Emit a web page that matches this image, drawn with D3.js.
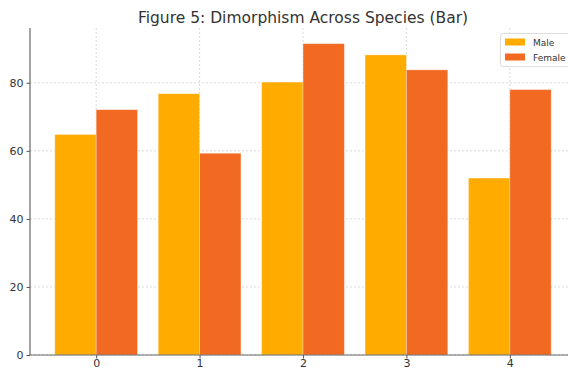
<!DOCTYPE html>
<html><head><meta charset="utf-8">
<script src="https://cdn.jsdelivr.net/npm/d3@7"></script>
<style>body{margin:0;background:#fff}svg{display:block;font-family:"DejaVu Sans",sans-serif}</style>
</head><body><svg id="c" width="568" height="369"></svg>
<script>
const categories = [0, 1, 2, 3, 4];
const maleValues = [64.8, 76.8, 80.2, 88.2, 52.0];
const femaleValues = [72.1, 59.3, 91.5, 83.8, 78.0];
const yTicks = [0, 20, 40, 60, 80];
const seriesNames = ["Male", "Female"];
const colors = ["#ffab00", "#f26a22"];
const title = "Figure 5: Dimorphism Across Species (Bar)";

const svg = d3.select("#c");
const L = 30, R = 576, T = 28, B = 355;
const barW = 0.4;
const x = d3.scaleLinear().domain([-0.64, 4.64]).range([L, R]);
const y = d3.scaleLinear().domain([0, 96.1]).range([B, T]);

// grid
const g = svg.append("g");
g.selectAll(".gy").data(yTicks).join("line")
  .attr("x1", L).attr("x2", R).attr("y1", d => y(d)).attr("y2", d => y(d))
  .attr("stroke", "#d0d0d0").attr("stroke-width", 0.8).attr("stroke-dasharray", "2,2");
g.selectAll(".gx").data(categories).join("line")
  .attr("y1", T).attr("y2", B).attr("x1", d => x(d)).attr("x2", d => x(d))
  .attr("stroke", "#d0d0d0").attr("stroke-width", 0.8).attr("stroke-dasharray", "2,2");

// bars
const series = [maleValues, femaleValues];
series.forEach((vals, si) => {
  svg.append("g").selectAll("rect").data(vals).join("rect")
    .attr("x", (d, i) => x(categories[i] + (si === 0 ? -barW : 0)))
    .attr("width", x(barW) - x(0))
    .attr("y", d => y(d))
    .attr("height", d => y(0) - y(d))
    .attr("fill", colors[si])
    .attr("stroke", "rgba(255,255,255,0.4)").attr("stroke-width", 0.8);
});

// axes
const xAxis = d3.axisBottom(x).tickValues(categories).tickFormat(d3.format("d")).tickSize(3.5).tickPadding(1);
const yAxis = d3.axisLeft(y).tickValues(yTicks).tickSize(3.5).tickPadding(3);
const ax = svg.append("g").attr("transform", `translate(0,${B})`).call(xAxis);
const ay = svg.append("g").attr("transform", `translate(${L},0)`).call(yAxis);
[ax, ay].forEach(a => {
  a.select(".domain").remove();
  a.selectAll("line").attr("stroke", "#555");
  a.selectAll("text").attr("fill", "#333").style("font-size", "11px").style("font-family", "DejaVu Sans");
});
svg.append("line").attr("x1", L).attr("x2", L).attr("y1", T).attr("y2", B).attr("stroke", "#666").attr("stroke-width", 1.2);
svg.append("line").attr("x1", L).attr("x2", R).attr("y1", B).attr("y2", B).attr("stroke", "#666").attr("stroke-width", 1.2);

// title
svg.append("text").attr("x", (L + R) / 2).attr("y", 23).attr("text-anchor", "middle")
  .attr("fill", "#333").style("font-size", "15.5px").text(title);

// legend
const lg = svg.append("g");
lg.append("rect").attr("x", 500.5).attr("y", 33.5).attr("width", 72).attr("height", 33).attr("rx", 2)
  .attr("fill", "rgba(255,255,255,0.85)").attr("stroke", "#ddd");
seriesNames.forEach((n, i) => {
  lg.append("rect").attr("x", 505).attr("y", 38.5 + i * 15).attr("width", 20).attr("height", 7).attr("fill", colors[i]);
  lg.append("text").attr("x", 533).attr("y", 45.5 + i * 15).attr("fill", "#333").style("font-size", "9px").text(n);
});
</script></body></html>
